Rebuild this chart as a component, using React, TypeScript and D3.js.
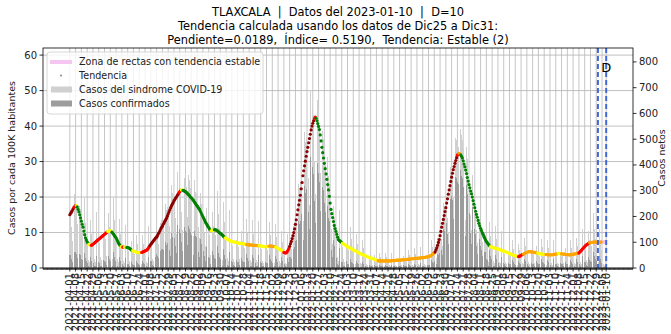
import React from "react";
import * as d3 from "d3";

const START = "2021-04-01";
const EXTRA_TICK = "2023-01-10";
const CUT_DATES = ["2022-12-31", "2023-01-10"];
const TITLE_LINES = [
  "TLAXCALA  |  Datos del 2023-01-10  |  D=10",
  "Tendencia calculada usando los datos de Dic25 a Dic31:",
  "Pendiente=0.0189,  Índice= 0.5190,  Tendencia: Estable (2)",
];
const LEFT_TICKS = [0, 10, 20, 30, 40, 50, 60];
const RIGHT_TICKS = [0, 100, 200, 300, 400, 500, 600, 700, 800];
const LEGEND_LABELS = [
  "Zona de rectas con tendencia estable",
  "Tendencia",
  "Casos del sindrome COVID-19",
  "Casos confirmados",
];

// trend (casos por cada 100K), daily from START
const trend = [
  15.0,15.4,15.8,16.2,16.7,17.1,17.4,17.6,17.6,17.2,
  16.5,15.8,15.0,14.1,13.2,12.3,11.5,10.4,9.4,8.5,
  7.9,7.4,7.0,6.7,6.5,6.4,6.4,6.5,6.7,6.9,
  7.1,7.3,7.5,7.7,7.9,8.1,8.3,8.5,8.7,8.9,
  9.1,9.3,9.5,9.7,9.9,10.1,10.3,10.4,10.5,10.5,
  10.4,10.1,9.8,9.5,9.1,8.8,8.5,8.0,7.5,7.0,
  6.6,6.3,6.0,5.9,5.9,5.9,5.9,5.8,5.8,5.8,
  5.7,5.7,5.6,5.4,5.2,5.0,4.9,4.8,4.7,4.6,
  4.5,4.4,4.4,4.3,4.3,4.3,4.4,4.4,4.5,4.6,
  4.7,4.8,4.9,5.0,5.3,5.6,6.0,6.3,6.7,7.0,
  7.3,7.6,7.9,8.2,8.5,8.7,9.1,9.6,10.0,10.5,
  11.0,11.4,11.8,12.3,12.7,13.2,13.6,14.0,14.6,15.2,
  15.8,16.4,17.0,17.5,18.0,18.4,18.9,19.3,19.7,20.0,
  20.4,20.8,21.2,21.5,21.8,22.0,22.0,21.9,21.8,21.6,
  21.5,21.3,21.1,20.8,20.6,20.3,20.0,19.8,19.5,19.2,
  18.9,18.5,18.2,17.8,17.5,17.2,16.8,16.5,16.0,15.5,
  15.0,14.5,14.0,13.5,13.0,12.6,12.2,11.8,11.4,11.0,
  10.7,10.5,10.5,10.6,10.7,10.8,10.8,10.7,10.6,10.4,
  10.2,10.0,9.8,9.6,9.4,9.2,8.9,8.7,8.5,8.4,
  8.2,8.1,8.0,7.8,7.7,7.6,7.5,7.4,7.4,7.3,
  7.3,7.2,7.2,7.1,7.0,7.0,7.0,6.9,6.9,6.9,
  6.8,6.8,6.7,6.7,6.6,6.6,6.5,6.5,6.5,6.5,
  6.5,6.4,6.4,6.4,6.4,6.4,6.3,6.3,6.3,6.3,
  6.3,6.2,6.2,6.1,6.1,6.0,6.0,6.0,6.0,6.1,
  6.1,6.2,6.2,6.2,6.2,6.1,6.1,6.0,6.0,5.9,
  5.8,5.7,5.5,5.4,5.3,5.1,5.0,4.8,4.6,4.4,
  4.3,4.2,4.3,4.6,5.0,5.5,6.1,6.8,7.5,8.3,
  9.1,10.0,11.0,12.3,13.6,15.0,16.4,17.8,19.1,20.5,
  22.3,24.1,26.0,27.4,28.8,30.1,31.5,32.8,34.0,35.3,
  36.5,37.7,38.9,40.0,40.8,41.5,42.1,42.5,42.2,41.5,
  40.7,39.9,39.0,37.5,35.8,34.0,32.5,31.0,29.5,28.0,
  26.5,25.0,23.5,22.0,20.2,18.3,16.5,15.3,14.2,13.1,
  12.0,11.1,10.3,9.5,8.7,8.0,7.8,7.6,7.4,7.2,
  7.0,6.8,6.7,6.5,6.3,6.2,6.0,5.9,5.8,5.6,
  5.5,5.4,5.3,5.1,5.0,4.9,4.8,4.6,4.5,4.4,
  4.3,4.1,4.0,3.9,3.8,3.7,3.6,3.5,3.4,3.3,
  3.2,3.1,3.0,2.9,2.8,2.8,2.7,2.6,2.5,2.4,
  2.3,2.2,2.2,2.1,2.0,2.0,2.0,2.0,2.0,2.0,
  2.0,2.0,2.0,2.0,2.0,2.0,2.0,2.0,2.0,2.0,
  2.1,2.1,2.1,2.1,2.1,2.2,2.2,2.2,2.2,2.2,
  2.2,2.3,2.3,2.3,2.3,2.4,2.4,2.4,2.4,2.5,
  2.5,2.5,2.5,2.6,2.6,2.6,2.6,2.7,2.7,2.7,
  2.7,2.8,2.8,2.8,2.8,2.9,2.9,2.9,3.0,3.0,
  3.0,3.1,3.1,3.2,3.2,3.3,3.4,3.5,3.7,3.9,
  4.1,4.3,4.5,5.1,5.7,6.4,7.2,8.0,9.1,10.3,
  11.5,12.6,13.7,14.8,15.9,17.0,18.3,19.5,20.8,22.0,
  23.2,24.4,25.6,26.7,27.7,28.6,29.5,30.3,31.1,31.8,
  32.1,32.3,32.2,31.9,31.5,31.0,30.2,29.3,28.5,27.6,
  26.6,25.5,24.5,23.5,22.6,21.7,20.9,20.0,19.0,18.0,
  17.0,16.0,15.1,14.3,13.4,12.6,11.9,11.2,10.6,10.0,
  9.5,8.9,8.4,7.9,7.5,7.2,6.8,6.5,6.2,6.0,
  5.9,5.8,5.8,5.7,5.6,5.6,5.5,5.4,5.4,5.3,
  5.2,5.1,5.0,4.9,4.8,4.8,4.7,4.6,4.5,4.4,
  4.3,4.2,4.1,4.0,3.9,3.8,3.7,3.6,3.5,3.5,
  3.4,3.3,3.2,3.2,3.3,3.4,3.6,3.7,3.8,3.9,
  4.1,4.2,4.3,4.4,4.5,4.6,4.6,4.6,4.6,4.5,
  4.5,4.5,4.4,4.4,4.3,4.2,4.2,4.1,4.1,4.0,
  4.0,3.9,3.9,3.9,3.8,3.8,3.8,3.8,3.7,3.7,
  3.7,3.7,3.7,3.7,3.7,3.8,3.8,3.9,3.9,4.0,
  4.0,4.1,4.1,4.1,4.0,4.0,4.0,3.9,3.9,3.9,
  3.8,3.8,3.8,3.7,3.7,3.7,3.7,3.8,3.8,3.9,
  3.9,4.0,4.0,4.1,4.1,4.2,4.2,4.5,4.7,5.0,
  5.3,5.5,5.8,6.0,6.3,6.5,6.7,6.8,7.0,7.1,
  7.1,7.2,7.2,7.3,7.3,7.3,7.3,7.3,7.3,7.3,
  7.3,7.3,7.3,7.3,
];

// trend colour runs: [first day, last day, class]
const trendColorRuns: [number, number, string][] = [
  [0,4,"darkred"],[5,7,"red"],[8,8,"yellow"],[9,22,"green"],[23,25,"yellow"],
  [26,45,"red"],[46,50,"yellow"],[51,61,"green"],[62,63,"yellow"],[64,65,"red"],
  [66,68,"yellow"],[69,75,"green"],[76,86,"yellow"],[87,96,"red"],[97,131,"darkred"],
  [132,134,"red"],[135,136,"yellow"],[137,170,"green"],[171,174,"yellow"],[175,187,"green"],
  [188,213,"yellow"],[214,228,"orange"],[229,240,"yellow"],[241,248,"orange"],[249,258,"yellow"],
  [259,265,"red"],[266,295,"darkred"],[296,297,"red"],[298,329,"green"],[330,372,"yellow"],
  [373,441,"orange"],[442,468,"darkred"],[469,470,"red"],[471,472,"orange"],[473,508,"green"],
  [509,542,"yellow"],[543,548,"red"],[549,565,"orange"],[566,575,"yellow"],[576,590,"orange"],
  [591,594,"yellow"],[595,615,"orange"],[616,628,"red"],[629,643,"orange"],
];

// stable-zone segment (day offsets) and level
const stableZoneDays = [637, 649];
const stableZoneLevel = [7.3, 7.3];

// daily net cases, sindrome COVID-19 (one row per week, Thu..Wed)
const sindrome = [
  231,218,160,105,305,270,288, 272,249,171,108,294,241,230, 164,144,55,36,271,176,120,
  92,82,32,23,185,132,99, 83,81,34,25,216,159,120, 101,97,41,30,258,188,141,
  118,114,48,35,298,215,160, 131,122,49,34,275,188,133, 105,94,36,24,191,131,91,
  73,69,28,20,168,120,88, 70,66,27,19,151,104,74, 59,55,22,16,128,92,65,
  53,50,21,15,130,95,72, 59,57,24,18,162,125,96, 83,82,35,26,229,170,129,
  136,128,95,66,195,176,186, 182,173,127,88,250,226,237, 236,224,162,113,322,290,298,
  292,273,195,133,374,336,343, 332,309,218,147,372,355,348, 320,313,199,148,360,341,309,
  306,277,190,126,340,296,288, 259,254,158,117,292,250,244, 224,198,134,87,231,197,190,
  141,128,51,36,305,219,162, 134,127,51,37,300,210,152, 122,112,45,32,258,180,129,
  104,96,39,28,225,159,116, 93,87,36,25,212,149,109, 88,82,34,24,200,143,103,
  85,78,32,23,191,135,99, 81,77,32,23,185,132,97, 79,75,30,22,183,131,96,
  77,72,29,21,174,125,91, 75,71,29,21,179,128,94, 76,71,29,21,170,120,86,
  68,63,26,18,145,99,69, 55,50,20,15,132,104,84, 95,96,75,55,168,162,179,
  190,192,149,110,328,310,332, 345,341,258,184,528,490,507, 505,484,348,246,690,636,648,
  628,592,414,286,770,678,652, 611,556,368,240,620,530,499, 455,398,262,168,430,357,326,
  282,233,152,95,240,193,180, 128,111,42,28,225,158,112, 89,82,33,23,189,131,94,
  75,69,28,19,160,111,80, 63,59,23,17,132,93,67, 53,48,19,14,109,77,55,
  43,40,16,11,90,62,44, 35,33,13,9,71,50,35, 27,26,10,7,59,42,31,
  25,24,10,7,59,42,31, 26,23,11,7,57,43,30, 26,25,10,8,63,45,33,
  27,26,11,8,67,48,36, 30,28,12,9,71,51,40, 32,31,13,9,78,56,41,
  33,33,14,10,82,60,44, 36,35,14,10,90,65,48, 40,38,16,12,107,81,62,
  66,63,51,38,118,116,131, 141,146,114,85,252,240,258, 263,259,193,140,404,376,392,
  396,380,272,193,515,505,498, 476,470,305,226,540,515,497, 462,418,279,186,470,425,384,
  352,331,205,147,362,310,290, 262,228,149,96,245,205,192, 172,150,99,64,163,136,128,
  93,84,33,23,179,125,89, 72,68,27,19,162,114,81, 67,62,25,18,145,101,73,
  59,55,22,16,128,89,64, 50,47,19,13,107,75,53, 43,40,16,11,92,68,52,
  45,43,18,14,118,87,65, 55,53,22,16,132,95,68, 56,53,21,15,124,87,64,
  50,48,19,14,113,81,59, 47,44,18,13,107,77,56, 46,43,18,13,109,78,59,
  49,47,19,14,118,84,61, 50,47,19,14,113,78,57, 47,43,18,13,107,78,57,
  49,46,19,14,118,84,64, 52,53,23,17,153,114,88, 75,74,32,23,197,144,108,
  88,84,35,25,212,152,111, 91,86,35,24,150,110,70, 60,45,15,10,30,8,
];

// daily net cases, confirmados (one row per week, Thu..Wed)
const confirmados = [
  49,50,33,24,70,57,64, 62,53,39,22,66,54,49, 36,32,12,8,60,39,26,
  20,18,7,5,41,29,22, 18,18,7,6,48,35,26, 22,21,9,7,57,41,31,
  26,25,11,8,66,47,35, 29,27,11,7,61,41,29, 23,21,8,5,42,29,20,
  16,15,6,4,37,26,19, 15,15,6,4,33,23,16, 13,12,5,4,28,20,14,
  12,11,5,3,29,21,16, 15,14,6,5,41,31,24, 27,27,12,9,76,56,43,
  53,48,37,25,75,66,72, 74,68,52,34,102,89,96, 101,93,69,46,137,121,127,
  130,118,87,58,168,146,153, 151,137,99,65,170,158,159, 145,140,91,66,164,152,140,
  130,115,81,52,145,123,122, 99,96,61,43,113,94,94, 77,66,47,29,80,66,66,
  42,38,15,11,92,66,49, 38,36,14,10,84,59,43, 34,31,13,9,72,50,36,
  29,27,11,8,63,45,32, 26,24,10,7,59,42,31, 25,23,10,7,56,40,29,
  24,22,9,6,53,38,28, 23,22,9,6,52,37,27, 22,21,8,6,51,37,27,
  22,20,8,6,49,35,25, 21,20,8,6,50,36,26, 21,20,8,6,48,34,24,
  19,18,7,5,41,28,19, 17,15,6,5,40,31,25, 42,44,33,25,77,72,82,
  104,107,81,60,182,170,184, 209,203,156,109,320,292,306, 316,298,218,151,432,392,405,
  392,365,259,175,480,418,407, 369,332,223,142,375,316,301, 252,217,146,91,239,195,181,
  128,104,69,42,110,86,82, 45,39,15,10,79,55,39, 25,23,9,6,53,37,26,
  17,15,6,4,35,24,18, 14,13,5,4,29,20,15, 12,11,4,3,24,17,12,
  9,9,4,2,20,14,10, 8,7,3,2,16,11,8, 6,6,2,2,13,9,7,
  6,5,2,2,13,9,7, 6,5,2,2,13,9,7, 6,6,2,2,14,10,7,
  6,6,2,2,15,11,8, 7,6,3,2,16,11,9, 7,7,3,2,17,12,9,
  7,7,3,2,18,13,10, 9,9,4,3,23,16,12, 12,11,5,4,32,24,19,
  29,29,23,17,54,51,60, 86,87,69,50,153,143,156, 180,175,132,94,277,255,268,
  279,264,192,134,363,352,350, 335,327,215,157,380,359,350, 316,282,191,125,322,287,263,
  230,214,134,95,237,200,190, 153,131,87,55,143,118,112, 84,71,48,30,79,64,62,
  35,32,13,9,68,48,34, 23,22,9,6,52,36,26, 20,19,8,5,44,30,22,
  18,17,7,5,38,27,19, 15,14,6,4,32,23,16, 13,12,5,3,28,20,16,
  14,13,5,4,35,26,20, 17,16,7,5,40,29,20, 17,16,6,5,37,26,19,
  15,14,6,4,34,24,18, 14,13,5,4,32,23,17, 14,13,5,4,33,23,18,
  15,14,6,4,35,25,18, 15,14,6,4,34,23,17, 14,13,5,4,32,23,17,
  15,14,6,4,35,25,19, 16,16,7,5,46,34,26, 23,22,10,7,59,43,32,
  26,25,11,8,64,46,33, 27,26,11,7,45,33,21, 18,14,5,3,9,2,
];

const COLORS: Record<string, string> = {
  darkred: "#8b0000",
  red: "#ff0000",
  orange: "#ffa500",
  yellow: "#ffff00",
  green: "#008000",
};

const W = 671;
const H = 334;
const PL = 43, PR = 633, PT = 48, PB = 268;
const FONT = "DejaVu Sans, sans-serif";
const DAY = 864e5;

export default function App() {
  const parse = d3.utcParse("%Y-%m-%d");
  const start = parse(START) as Date;
  const dayDate = (i: number) => new Date(start.getTime() + i * DAY);
  const x = d3
    .scaleUtc()
    .domain([dayDate(-32.45), dayDate(681.45)])
    .range([PL, PR]);
  const yL = d3.scaleLinear().domain([0, 62]).range([PB, PT]);
  const yR = d3.scaleLinear().domain([0, 854]).range([PB, PT]);

  const lastTickDay = Math.floor((parse(EXTRA_TICK)!.getTime() - start.getTime()) / DAY);
  const majorTicks: Date[] = [];
  for (let i = 0; i <= lastTickDay; i += 7) majorTicks.push(dayDate(i));
  majorTicks.push(parse(EXTRA_TICK)!);
  const fmt = d3.utcFormat("%Y-%m-%d");

  const minorTicks: number[] = [];
  for (let i = -32; i <= 681; i++) minorTicks.push(x(dayDate(i)));

  const colorOf = (i: number) => {
    const r = trendColorRuns.find((c) => i >= c[0] && i <= c[1]);
    return r ? COLORS[r[2]] : COLORS.orange;
  };

  const bw = x(dayDate(0.4)) - x(dayDate(-0.4));

  return (
    <svg
      width={W}
      height={H}
      style={{ position: "absolute", left: 0, top: 0, background: "#fff" }}
      fontFamily={FONT}
    >
      <rect x={0} y={0} width={W} height={H} fill="#fff" />
      {/* title */}
      {TITLE_LINES.map((t, i) => (
        <text
          key={i}
          x={(PL + PR) / 2}
          y={16 + i * 14}
          textAnchor="middle"
          fontSize={11.4}
          fill="#000"
          style={{ whiteSpace: "pre" }}
        >
          {t}
        </text>
      ))}
      {/* grid */}
      {LEFT_TICKS.map((v) => (
        <line key={"hg" + v} x1={PL} x2={PR} y1={yL(v)} y2={yL(v)} stroke="#b0b0b0" strokeWidth={0.8} />
      ))}
      {majorTicks.map((d, i) => (
        <line key={"vg" + i} x1={x(d)} x2={x(d)} y1={PT} y2={PB} stroke="#b8b8b8" strokeWidth={0.8} />
      ))}
      {/* bars */}
      <g shapeRendering="crispEdges">
        {sindrome.map((v, i) => (
          <rect key={"s" + i} x={x(dayDate(i)) - bw / 2} width={bw} y={yR(v)} height={PB - yR(v)} fill="#d0d0d0" />
        ))}
        {confirmados.map((v, i) => (
          <rect key={"c" + i} x={x(dayDate(i)) - bw / 2} width={bw} y={yR(v)} height={PB - yR(v)} fill="#9c9c9c" />
        ))}
      </g>
      {/* stable zone */}
      <line
        x1={x(dayDate(stableZoneDays[0]))}
        x2={x(dayDate(stableZoneDays[1]))}
        y1={yL(stableZoneLevel[0])}
        y2={yL(stableZoneLevel[1])}
        stroke="#f6c6f2"
        strokeWidth={4}
      />
      {/* trend dots */}
      {trend.map((v, i) => (
        <circle key={"t" + i} cx={x(dayDate(i))} cy={yL(v)} r={1.6} fill={colorOf(i)} />
      ))}
      {/* cut lines */}
      {CUT_DATES.map((d, i) => (
        <line
          key={"cut" + i}
          x1={x(parse(d)!)}
          x2={x(parse(d)!)}
          y1={PT}
          y2={PB}
          stroke="#4169e1"
          strokeWidth={2}
          strokeDasharray="5,3"
        />
      ))}
      <text x={x(parse(CUT_DATES[1])!)} y={72} textAnchor="middle" fontSize={13} fill="#000">
        D
      </text>
      {/* frame */}
      <rect x={PL} y={PT} width={PR - PL} height={PB - PT} fill="none" stroke="#000" strokeWidth={0.8} />
      {/* left axis */}
      {LEFT_TICKS.map((v) => (
        <g key={"lt" + v}>
          <line x1={PL - 3.5} x2={PL} y1={yL(v)} y2={yL(v)} stroke="#000" strokeWidth={0.8} />
          <text x={PL - 6} y={yL(v)} dy="0.35em" textAnchor="end" fontSize={10} fill="#222">
            {v}
          </text>
        </g>
      ))}
      {/* right axis */}
      {RIGHT_TICKS.map((v) => (
        <g key={"rt" + v}>
          <line x1={PR} x2={PR + 3.5} y1={yR(v)} y2={yR(v)} stroke="#000" strokeWidth={0.8} />
          <text x={PR + 6} y={yR(v)} dy="0.35em" textAnchor="start" fontSize={10} fill="#222">
            {v}
          </text>
        </g>
      ))}
      {/* x axis ticks */}
      {minorTicks.map((px, i) => (
        <line key={"mt" + i} x1={px} x2={px} y1={PB} y2={PB + 2} stroke="#000" strokeWidth={0.6} />
      ))}
      {majorTicks.map((d, i) => (
        <g key={"xt" + i}>
          <line x1={x(d)} x2={x(d)} y1={PB} y2={PB + 3.5} stroke="#000" strokeWidth={0.8} />
          <text
            transform={`translate(${x(d)},${PB + 5}) rotate(-90)`}
            dy="0.35em"
            textAnchor="end"
            fontSize={10}
            fill="#222"
          >
            {fmt(d)}
          </text>
        </g>
      ))}
      {/* axis labels */}
      <text transform={`translate(15,${(PT + PB) / 2}) rotate(-90)`} textAnchor="middle" fontSize={9.5} fill="#222">
        Casos por cada 100K habitantes
      </text>
      <text transform={`translate(665,${(PT + PB) / 2}) rotate(-90)`} textAnchor="middle" fontSize={9.5} fill="#222">
        Casos netos
      </text>
      {/* legend */}
      <g>
        <rect x={47} y={52} width={216} height={62} rx={3} fill="#fff" fillOpacity={0.8} stroke="#cccccc" strokeWidth={0.8} />
        <line x1={50} x2={72} y1={62} y2={62} stroke="#f6c6f2" strokeWidth={4} />
        <circle cx={61} cy={75.5} r={0.9} fill="#777" />
        <rect x={51} y={86.5} width={21} height={6} fill="#d0d0d0" />
        <rect x={51} y={100.5} width={21} height={6} fill="#9c9c9c" />
        {LEGEND_LABELS.map((t, i) => (
          <text key={"lg" + i} x={79} y={62 + i * 14} dy="0.35em" fontSize={9.6} fill="#222">
            {t}
          </text>
        ))}
      </g>
    </svg>
  );
}
